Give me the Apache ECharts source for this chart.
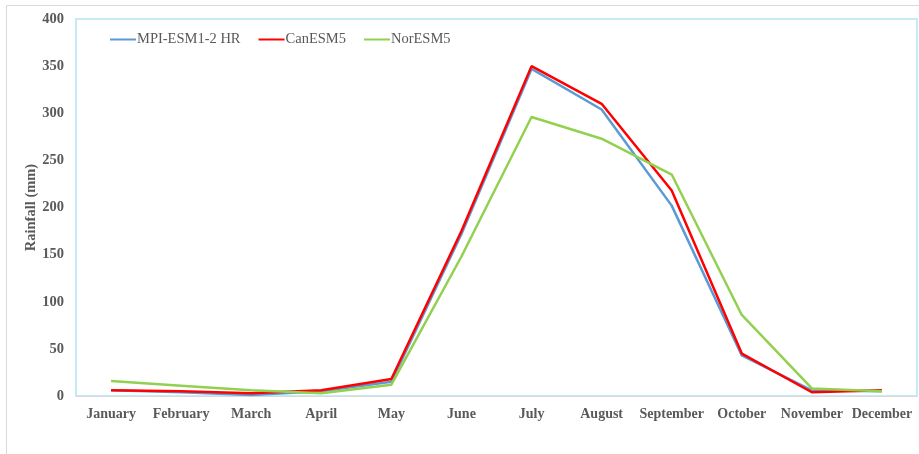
<!DOCTYPE html>
<html>
<head>
<meta charset="utf-8">
<script src="https://cdn.jsdelivr.net/npm/echarts@6/dist/echarts.min.js"></script>
<style>
  html, body { margin: 0; padding: 0; background: #fff; }
  #chart { width: 919px; height: 454px; }
</style>
</head>
<body>
<div id="chart"></div>
<script>
const months = ['January', 'February', 'March', 'April', 'May', 'June', 'July',
  'August', 'September', 'October', 'November', 'December']
const mpi = [6, 4, 1, 5, 15, 172, 347, 304, 202, 43, 6, 5]
const canesm = [6, 5, 3, 6, 18, 175, 350, 310, 218, 45, 4, 6]
const noresm = [16, 11, 6, 3, 12, 148, 296, 273, 235, 86, 8, 5]

const serif = '"Liberation Serif", "Times New Roman", serif'
const grey = '#595959'

const chart = echarts.init(document.getElementById('chart'))

chart.setOption({
  animation: false,
  backgroundColor: '#fff',
  textStyle: { fontFamily: serif },
  // outer frame of the figure
  graphic: [{
    type: 'rect',
    shape: { x: 6.5, y: 5.5, width: 930, height: 470 },
    style: { fill: 'none', stroke: '#d9d9d9', lineWidth: 1 },
    z: -1
  }],
  grid: {
    left: 76, top: 19, right: 2, bottom: 58,
    show: true,
    borderColor: '#b3e5f6',
    borderWidth: 1.5,
    containLabel: false
  },
  legend: {
    left: 110, top: 32, padding: 0,
    itemWidth: 26, itemHeight: 2, itemGap: 18,
    icon: 'rect',
    textStyle: { fontFamily: serif, fontSize: 14.5, color: grey, padding: [0, 0, 0, -4] }
  },
  xAxis: {
    type: 'category',
    data: months,
    boundaryGap: true,
    axisLine: { lineStyle: { color: '#d9d9d9', width: 1 } },
    axisTick: { show: false },
    axisLabel: {
      interval: 0, margin: 11,
      fontFamily: serif, fontWeight: 'bold', fontSize: 14, color: grey
    },
    splitLine: { show: false }
  },
  yAxis: {
    type: 'value',
    min: 0, max: 400, interval: 50,
    name: 'Rainfall (mm)',
    nameLocation: 'middle',
    nameGap: 37,
    nameMoveOverlap: false,
    nameTextStyle: { fontFamily: serif, fontWeight: 'bold', fontSize: 14.5, color: grey },
    axisLine: { show: false },
    axisTick: { show: false },
    axisLabel: { margin: 12, fontFamily: serif, fontWeight: 'bold', fontSize: 14.5, color: grey },
    splitLine: { show: false }
  },
  series: [
    {
      name: 'MPI-ESM1-2 HR', type: 'line', data: mpi,
      symbol: 'none', color: '#5b9bd5', lineStyle: { width: 2.5 }
    },
    {
      name: 'CanESM5', type: 'line', data: canesm,
      symbol: 'none', color: '#ff0000', lineStyle: { width: 2.5 }
    },
    {
      name: 'NorESM5', type: 'line', data: noresm,
      symbol: 'none', color: '#92d050', lineStyle: { width: 2.5 }
    }
  ]
})
</script>
</body>
</html>
